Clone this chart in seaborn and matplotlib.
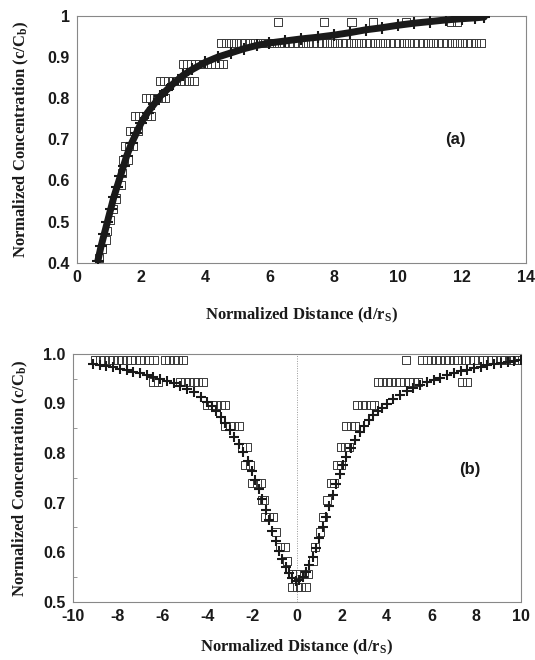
import numpy as np
import pandas as pd
import seaborn as sns
import matplotlib
matplotlib.use("Agg")
import matplotlib.pyplot as plt
from matplotlib.ticker import MultipleLocator

# ---- panel (a): model curve (+) ----
a_model_x = [0.65, 0.75, 0.85, 0.95, 1.05, 1.15, 1.25, 1.35, 1.45, 1.55, 1.7, 1.85,
             2.0, 2.2, 2.4, 2.6, 2.8, 3.0, 3.3, 3.6, 4.0, 4.4, 4.8, 5.2, 5.6, 6.0,
             6.5, 7.0, 7.5, 8.0, 8.5, 9.0, 9.5, 10.0, 10.5, 11.0, 11.5, 12.0, 12.4, 12.7]
a_model_y = [0.405, 0.44, 0.47, 0.50, 0.53, 0.56, 0.585, 0.61, 0.635, 0.66, 0.69, 0.715,
             0.74, 0.765, 0.785, 0.805, 0.82, 0.835, 0.855, 0.87, 0.887, 0.9, 0.91, 0.92,
             0.928, 0.934, 0.939, 0.944, 0.948, 0.953, 0.959, 0.966, 0.971, 0.977, 0.982,
             0.986, 0.99, 0.993, 0.995, 0.997]

# ---- panel (a): measured (open squares) ----
a_plateau_x = [4.50, 4.65, 4.80, 4.95, 5.10, 5.25, 5.40, 5.55, 5.70, 5.85, 6.00, 6.15,
               6.30, 6.45, 6.60, 6.75, 6.90, 7.05, 7.20, 7.35, 7.50, 7.65, 7.80, 7.95,
               8.10, 8.25, 8.40, 8.55, 8.70, 8.85, 9.00, 9.15, 9.30, 9.45, 9.60, 9.75,
               9.90, 10.05, 10.20, 10.35, 10.50, 10.65, 10.80, 10.95, 11.10, 11.25, 11.40,
               11.55, 11.70, 11.85, 12.00, 12.15, 12.30, 12.45, 12.60]
a_meas_x = ([0.69, 0.77, 0.90, 0.94, 1.03, 1.13, 1.20, 1.36, 1.40, 1.45, 1.58,
             1.50, 1.62, 1.74,
             1.66, 1.78, 1.90,
             1.80, 1.92, 2.05, 2.18, 2.30,
             2.15, 2.27, 2.39, 2.51, 2.63, 2.75,
             2.60, 2.72, 2.85, 2.98, 3.10, 3.22, 3.35, 3.48, 3.64,
             3.30, 3.42, 3.55, 3.68, 3.80, 3.92, 4.05, 4.18, 4.30, 4.42, 4.55,
             6.28, 7.70, 8.56, 9.22, 10.26, 11.66, 11.85]
            + a_plateau_x)
a_meas_y = ([0.412, 0.433, 0.455, 0.477, 0.504, 0.53, 0.556, 0.588, 0.618, 0.65, 0.65,
             0.683, 0.683, 0.683,
             0.72, 0.72, 0.72,
             0.757, 0.757, 0.757, 0.757, 0.757,
             0.80, 0.80, 0.80, 0.80, 0.80, 0.80,
             0.842, 0.842, 0.842, 0.842, 0.842, 0.842, 0.842, 0.842, 0.842,
             0.884, 0.884, 0.884, 0.884, 0.884, 0.884, 0.884, 0.884, 0.884, 0.884, 0.884,
             0.985, 0.985, 0.985, 0.985, 0.985, 0.985, 0.985]
            + [0.935] * len(a_plateau_x))

# ---- panel (b): model curve (+) ----
b_model_x = [-9.1, -8.8, -8.5, -8.2, -7.9, -7.6, -7.3, -7.0, -6.7, -6.4, -6.1, -5.8,
             -5.5, -5.2, -4.9, -4.6, -4.3, -4.0, -3.8, -3.6, -3.4, -3.2, -3.0, -2.8,
             -2.6, -2.4, -2.2, -2.0, -1.85, -1.7, -1.55, -1.4, -1.25, -1.1, -0.95, -0.8,
             -0.65, -0.5, -0.35, -0.2, -0.05,
             0.1, 0.25, 0.4, 0.55, 0.7, 0.85, 1.0, 1.15, 1.3, 1.45, 1.6, 1.75, 1.9, 2.05,
             2.2, 2.4, 2.6, 2.8, 3.0, 3.2, 3.4, 3.6, 3.8, 4.0, 4.3, 4.6, 4.9, 5.2, 5.5,
             5.8, 6.1, 6.4, 6.7, 7.0, 7.3, 7.6, 7.9, 8.2, 8.5, 8.8, 9.1, 9.4, 9.7, 10.0]
b_model_y = [0.980, 0.977, 0.975, 0.973, 0.970, 0.967, 0.964, 0.961, 0.958, 0.954, 0.950,
             0.946, 0.941, 0.936, 0.929, 0.922, 0.913, 0.902, 0.894, 0.884, 0.872, 0.860,
             0.847, 0.833, 0.818, 0.802, 0.784, 0.763, 0.745, 0.727, 0.707, 0.686, 0.665,
             0.643, 0.622, 0.603, 0.586, 0.571, 0.559, 0.549, 0.543,
             0.545, 0.551, 0.561, 0.574, 0.590, 0.608, 0.628, 0.650, 0.672, 0.694, 0.716,
             0.737, 0.757, 0.775, 0.791, 0.810, 0.827, 0.842, 0.855, 0.866, 0.876, 0.884,
             0.891, 0.898, 0.908, 0.917, 0.925, 0.932, 0.938, 0.943, 0.948, 0.952, 0.957,
             0.961, 0.965, 0.968, 0.971, 0.974, 0.977, 0.980, 0.982, 0.984, 0.986, 0.988]

# ---- panel (b): measured (open squares) ----
b_meas_x = [-9.0, -8.8, -8.6, -8.4, -8.2, -8.0, -7.8, -7.6, -7.4, -7.2, -7.0, -6.8, -6.6,
            -6.4, -5.9, -5.7, -5.5, -5.3, -5.1,
            4.85, 5.6, 5.8, 6.0, 6.2, 6.4, 6.6, 6.8, 7.0, 7.2, 7.5, 7.7, 7.9, 8.1, 8.3,
            8.5, 8.7, 8.9, 9.1, 9.3, 9.5, 9.7, 9.9,
            -6.4, -6.2, -5.2, -5.0, -4.8, -4.6, -4.4, -4.2,
            3.6, 3.8, 4.0, 4.2, 4.4, 4.6, 4.8, 5.0, 5.2, 5.4, 7.35, 7.6,
            -4.0, -3.8, -3.6, -3.4, -3.2, 2.7, 2.9, 3.1, 3.3, 3.45,
            -3.2, -3.0, -2.8, -2.6, 2.2, 2.4, 2.6,
            -2.45, -2.25, 1.95, 2.15, 2.3,
            -2.3, -2.1, 1.8, 1.95,
            -2.0, -1.8, -1.6, 1.5, 1.65,
            -1.55, -1.45, 1.35,
            -1.4, -1.25, -1.05, 1.17,
            -0.92, 1.04,
            -0.75, -0.55, 0.82,
            -0.45, 0.72,
            -0.2, -0.05, 0.32, 0.5,
            -0.2, 0.0, 0.2, 0.42]
b_meas_y = ([0.988] * 42
            + [0.943] * 20
            + [0.897] * 10
            + [0.855] * 7
            + [0.813] * 5
            + [0.775] * 4
            + [0.74] * 5
            + [0.705] * 3
            + [0.672] * 4
            + [0.641] * 2
            + [0.61] * 3
            + [0.582] * 2
            + [0.557] * 4
            + [0.53] * 4)

a_xticks = [0, 2, 4, 6, 8, 10, 12, 14]
a_yticks = [0.4, 0.5, 0.6, 0.7, 0.8, 0.9, 1.0]
a_ylabels = ["0.4", "0.5", "0.6", "0.7", "0.8", "0.9", "1"]
b_xticks = [-10, -8, -6, -4, -2, 0, 2, 4, 6, 8, 10]
b_xlabels = ["-10", "-8", "-6", "-4", "-2", "0", "2", "4", "6", "8", "10"]
b_yticks = [0.5, 0.6, 0.7, 0.8, 0.9, 1.0]
b_ylabels = ["0.5", "0.6", "0.7", "0.8", "0.9", "1.0"]

sns.set_style("white")
plt.rcParams["font.family"] = ["Liberation Sans", "DejaVu Sans"]
plt.rcParams["axes.unicode_minus"] = False
plt.rcParams["mathtext.fontset"] = "custom"
plt.rcParams["mathtext.rm"] = "Liberation Serif:bold"
plt.rcParams["mathtext.bf"] = "Liberation Serif:bold"
plt.rcParams["mathtext.it"] = "Liberation Serif:bold"

INK = "#1a1a1a"
SQ = "#3a3a3a"
label_font = dict(family="Liberation Serif", weight="bold", size=12, color=INK)

fig = plt.figure(figsize=(5.35, 6.6), dpi=100)
ax1 = fig.add_axes([0.144, 0.602, 0.839, 0.374])
ax2 = fig.add_axes([0.136, 0.088, 0.838, 0.376])


def style_axes(ax):
    for side, sp in ax.spines.items():
        sp.set_color("#888888")
        sp.set_linewidth(0.8)
        if side in ("top", "bottom"):
            sp.set_linestyle((0, (3, 1)))
    ax.tick_params(axis="both", which="major", direction="out", length=3, width=0.8,
                   color="#666666", labelsize=11.5, labelcolor=INK, pad=2)
    for lab in ax.get_xticklabels() + ax.get_yticklabels():
        lab.set_fontweight("bold")


# panel (a)
sns.scatterplot(x=a_meas_x, y=a_meas_y, marker="s", s=34, color=SQ, facecolor="none",
                edgecolor=SQ, linewidth=0.7, ax=ax1, clip_on=False, zorder=2)
sns.lineplot(x=a_model_x, y=a_model_y, color=INK, linewidth=5, marker="+",
             markersize=8, markeredgewidth=1.5, markeredgecolor=INK, ax=ax1, zorder=3)
ax1.set_xlim(0, 14)
ax1.set_ylim(0.4, 1.0)
ax1.set_xticks(a_xticks)
ax1.set_yticks(a_yticks)
ax1.set_yticklabels(a_ylabels)
ax1.set_xlabel(r"Normalized Distance (d/r$_{\mathbf{S}}$)", labelpad=15, **label_font)
ax1.set_ylabel(r"Normalized Concentration (c/C$_{\mathbf{b}}$)", labelpad=12, **label_font)
ax1.text(11.8, 0.70, "(a)", ha="center", va="center", fontsize=12, fontweight="bold",
         color=INK)
style_axes(ax1)

# panel (b)
ax2.axvline(0, color="#999999", linewidth=0.7, linestyle=(0, (1, 1.5)), zorder=1)
sns.scatterplot(x=b_meas_x, y=b_meas_y, marker="s", s=34, color=SQ, facecolor="none",
                edgecolor=SQ, linewidth=0.7, ax=ax2, zorder=2)
sns.scatterplot(x=b_model_x, y=b_model_y, marker="+", s=55, color=INK, linewidth=1.5,
                ax=ax2, zorder=3)
ax2.set_xlim(-10, 10)
ax2.set_ylim(0.5, 1.0)
ax2.set_xticks(b_xticks)
ax2.set_xticklabels(b_xlabels)
ax2.set_yticks(b_yticks)
ax2.set_yticklabels(b_ylabels)
ax2.yaxis.set_minor_locator(MultipleLocator(0.05))
ax2.tick_params(axis="y", which="minor", direction="in", length=3, width=0.6,
                color="#888888", left=True)
ax2.set_xlabel(r"Normalized Distance (d/r$_{\mathbf{S}}$)", labelpad=10, **label_font)
ax2.set_ylabel(r"Normalized Concentration (c/C$_{\mathbf{b}}$)", labelpad=10, **label_font)
ax2.text(7.7, 0.766, "(b)", ha="center", va="center", fontsize=12, fontweight="bold",
         color=INK)
style_axes(ax2)

fig.savefig("out.png", dpi=100, facecolor="white")
